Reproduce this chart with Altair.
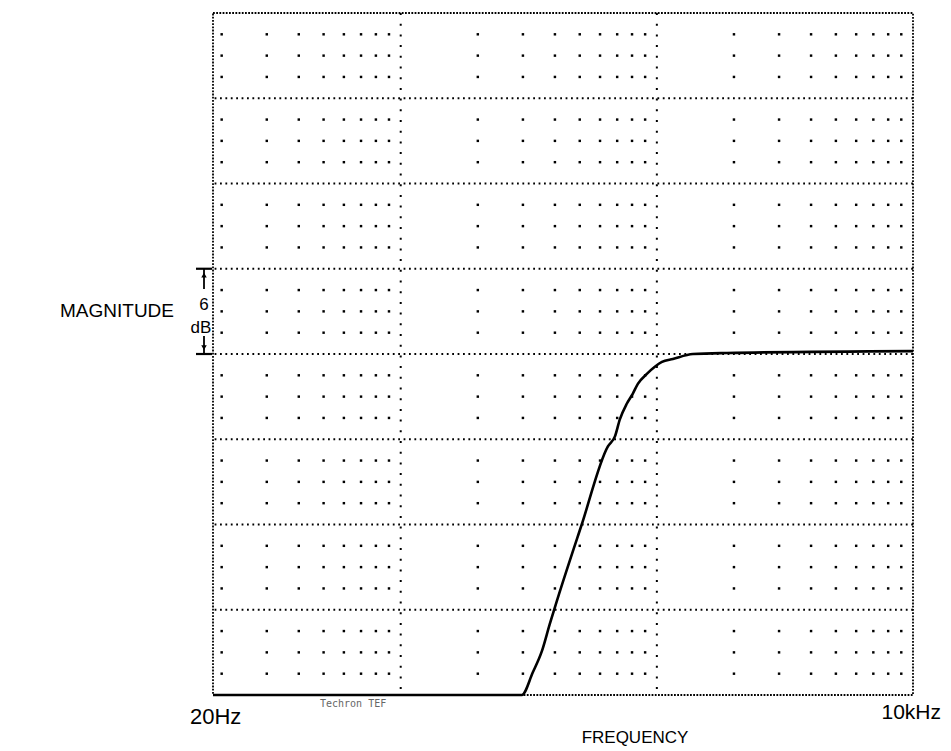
import altair as alt
import pandas as pd

# ---- data ----
freq_hz = [18.5, 297, 328, 356, 382, 410, 509, 644, 686, 717, 763, 805, 843,
           914, 982, 1047, 1155, 1383, 1877, 10000]
mag_db = [-24, -24, -22.4, -20.9, -19.0, -17.2, -12.0, -6.5, -5.8, -4.6, -3.5,
          -2.8, -2.1, -1.4, -0.9, -0.56, -0.35, 0.0, 0.07, 0.2]

minor_freqs = [20, 30, 40, 50, 60, 70, 80, 90,
               200, 300, 400, 500, 600, 700, 800, 900,
               2000, 3000, 4000, 5000, 6000, 7000, 8000, 9000]
decade_freqs = [100, 1000]
minor_db = [v * 1.5 for v in range(-15, 16) if v % 4 != 0]
major_db = [-18, -12, -6, 0, 6, 12, 18]

x_domain = [18.5, 10000]
y_domain = [-24, 24]

FONT = "Liberation Sans"

xs = alt.Scale(type="log", domain=x_domain)
ys = alt.Scale(domain=y_domain)

curve_df = pd.DataFrame({"f": freq_hz, "db": mag_db})
dots_df = pd.DataFrame([(f, d) for f in minor_freqs for d in minor_db], columns=["f", "db"])
rows_df = pd.DataFrame({"db": major_db})
cols_df = pd.DataFrame({"f": decade_freqs, "top": [y_domain[1]] * 2, "bot": [y_domain[0]] * 2})

dots = alt.Chart(dots_df).mark_square(size=6, color="black", opacity=1).encode(
    x=alt.X("f:Q", scale=xs, axis=None),
    y=alt.Y("db:Q", scale=ys, axis=None),
)

rows = alt.Chart(rows_df).mark_rule(color="black", strokeWidth=1.8, strokeDash=[1.8, 3.6]).encode(
    y=alt.Y("db:Q", scale=ys, axis=None),
)

cols = alt.Chart(cols_df).mark_rule(color="black", strokeWidth=2, strokeDash=[2, 8.7]).encode(
    x=alt.X("f:Q", scale=xs, axis=None),
    y=alt.Y("top:Q", scale=ys, axis=None),
    y2="bot:Q",
)

curve = alt.Chart(curve_df).mark_line(color="black", strokeWidth=2.6, interpolate="monotone").encode(
    x=alt.X("f:Q", scale=xs, axis=None),
    y=alt.Y("db:Q", scale=ys, axis=None),
)

# 6 dB scale marker
seg_df = pd.DataFrame({"a": [6.0, 1.27], "b": [4.57, 0.0]})
marker_line = alt.Chart(seg_df).mark_rule(color="black", strokeWidth=1.8).encode(
    x=alt.value(-9), y=alt.Y("a:Q", scale=ys, axis=None), y2="b:Q")
cap_df = pd.DataFrame({"db": [6.0, 0.0]})
marker_caps = alt.Chart(cap_df).mark_rule(color="black", strokeWidth=2.2).encode(
    x=alt.value(-17), x2=alt.value(-1), y=alt.Y("db:Q", scale=ys, axis=None))
arrow_df = pd.DataFrame({"db": [5.55, 0.45], "shape": ["triangle-up", "triangle-down"]})
marker_arrows = alt.Chart(arrow_df).mark_point(filled=True, color="black", size=30, opacity=1).encode(
    x=alt.value(-9), y=alt.Y("db:Q", scale=ys, axis=None),
    shape=alt.Shape("shape:N", scale=None))

def label(text, x, y, size, align="left", color="black", font=FONT, weight="normal"):
    return alt.Chart(pd.DataFrame({"t": [text]})).mark_text(
        align=align, baseline="alphabetic", fontSize=size, font=font, color=color,
        fontWeight=weight
    ).encode(text="t:N", x=alt.value(x), y=alt.value(y))

texts = [
    label("MAGNITUDE", -153, 304, 19),
    label("FREQUENCY", 422, 730, 17, align="center"),
    label("20Hz", -23, 711, 22),
    label("10kHz", 728, 706, 21, align="right"),
    label("6", -9, 297, 17, align="center"),
    label("dB", -12, 320, 17, align="center"),
    label("Techron TEF", 107, 694, 10, color="#666666", font="DejaVu Sans Mono"),
]

chart = alt.layer(dots, rows, cols, curve, marker_line, marker_caps, marker_arrows, *texts).properties(
    width=700, height=682,
    autosize=alt.AutoSizeParams(type="none"),
    padding={"left": 205, "top": 5, "right": 30, "bottom": 52},
    background="white",
).configure_view(
    stroke="black", strokeWidth=1.8, strokeDash=[1.8, 1.4]
)

chart.save("out.html", embed_options={"renderer": "svg", "actions": False})
